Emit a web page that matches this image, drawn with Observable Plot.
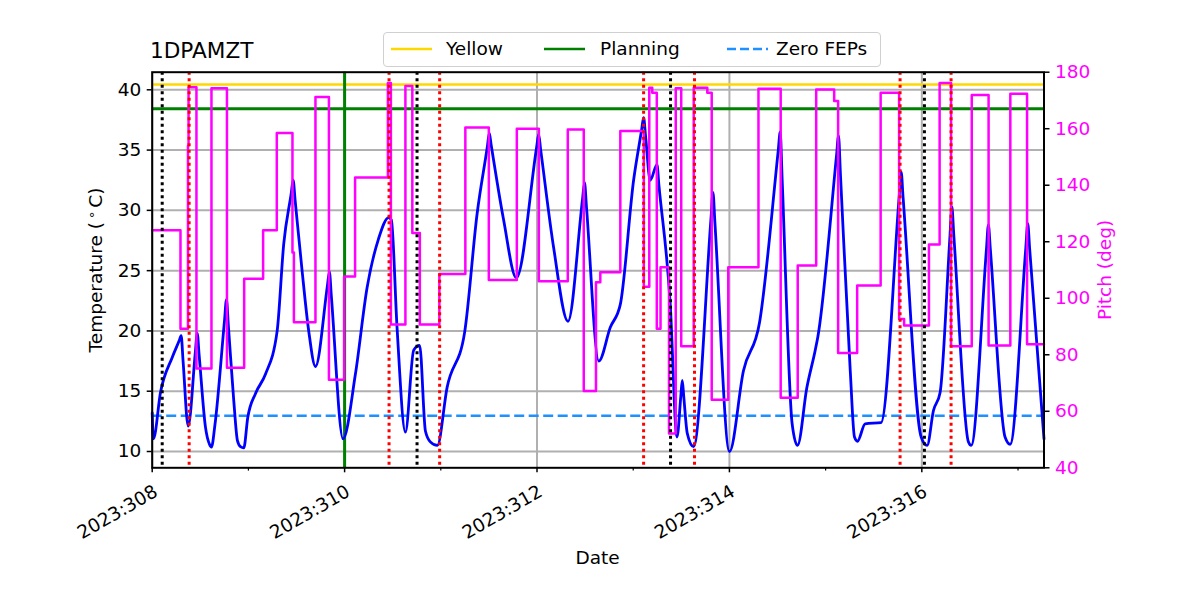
<!DOCTYPE html>
<html><head><meta charset="utf-8">
<script src="https://cdn.jsdelivr.net/npm/d3@7"></script>
<script src="https://cdn.jsdelivr.net/npm/@observablehq/plot@0.6"></script>
<style>
body{margin:0;background:white;}
#wrap{position:relative;width:1200px;height:600px;font-family:"DejaVu Sans",sans-serif;color:black;overflow:hidden;}
#wrap svg.plot{position:absolute;left:0;top:0;}
.t{position:absolute;white-space:nowrap;font-size:18.5px;line-height:22px;}
.rot{transform:translate(-50%,-50%) rotate(-90deg);}
#legend{position:absolute;left:383px;top:32px;width:496px;height:33px;border:1px solid #d0d0d0;border-radius:4px;background:rgba(255,255,255,0.85);}
#legend svg{position:absolute;}
</style></head><body><div id="wrap">
</div>
<script>
// ---- data ----
const tempTime = [308.000,308.013,308.086,308.208,308.281,308.301,308.321,308.374,308.448,308.468,308.488,308.554,308.595,308.616,308.652,308.752,308.772,308.792,308.848,308.886,308.917,308.952,308.993,309.073,309.177,309.299,309.367,309.445,309.465,309.485,309.558,309.627,309.697,309.822,309.842,309.862,309.984,310.112,310.234,310.351,310.458,310.486,310.545,310.632,310.718,310.780,310.840,310.891,310.964,311.065,311.248,311.377,311.484,311.504,311.524,311.653,311.785,311.997,312.017,312.037,312.173,312.322,312.474,312.494,312.514,312.642,312.762,312.866,313.004,313.088,313.108,313.128,313.177,313.247,313.267,313.385,313.455,313.495,313.510,313.525,313.562,313.627,313.809,313.829,313.849,314.001,314.146,314.313,314.508,314.528,314.548,314.652,314.708,314.805,314.892,314.919,315.114,315.134,315.154,315.256,315.300,315.331,315.411,315.577,315.765,315.785,315.805,315.993,316.055,316.121,316.190,316.292,316.312,316.332,316.484,316.513,316.672,316.692,316.712,316.865,316.918,317.081,317.101,317.121,317.270];
const tempC = [13.2,11.05,14.9,17.8,19.2,19.6,17.5,12.1,18.2,19.8,18.0,12.0,10.6,10.36,12.2,20.9,22.6,20.4,14.2,10.9,10.4,10.3,12.8,14.8,16.4,20.0,27.2,31.4,32.5,30.9,25.0,20.0,17.05,23.8,24.9,22.9,11.05,16.4,23.6,27.6,29.4,29.2,20.3,11.6,18.4,18.8,11.7,10.8,10.5,15.3,19.9,29.7,35.3,36.4,35.4,29.2,24.4,35.3,36.3,35.1,26.9,20.8,31.0,32.3,30.3,17.5,20.3,22.2,32.5,36.7,37.7,36.2,32.5,33.8,32.1,22.2,11.2,14.6,15.9,14.6,11.5,10.4,29.4,31.5,29.0,10.0,16.7,20.7,35.0,36.5,32.6,12.3,10.5,15.3,18.4,19.5,34.6,36.2,33.0,16.7,11.2,10.85,12.3,12.4,31.2,33.2,31.1,11.2,10.5,13.4,14.9,27.8,30.3,28.0,10.8,10.5,26.8,28.8,26.8,11.2,10.6,26.9,28.9,26.8,11.05];

const pitchTime = [308.000,308.294,308.372,308.378,308.460,308.616,308.777,308.956,309.153,309.295,309.458,309.473,309.697,309.837,309.995,310.109,310.450,310.481,310.632,310.704,310.782,310.985,311.255,311.499,311.790,312.019,312.320,312.486,312.613,312.658,312.866,313.110,313.167,313.198,313.245,313.284,313.372,313.442,313.499,313.629,313.770,313.816,313.988,314.302,314.533,314.710,314.902,315.089,315.130,315.328,315.572,315.764,315.816,316.074,316.185,316.304,316.519,316.694,316.920,317.094,317.270];
const pitchDeg = [124.1,89.2,154,174.7,75.1,174.3,75.4,106.9,124.1,158.5,116.2,91.5,171.2,71.2,107.7,142.7,176.2,90.7,175.1,123.1,90.7,108.6,160.4,106.5,160.0,106.0,159.7,67.2,105.7,109.2,159.2,104.1,174.5,172.7,89.2,111.0,52.1,174.3,83.0,174.5,172.7,64.1,111.0,174.1,64.8,111.6,173.9,169.8,80.6,104.5,172.7,92.7,90.4,119.0,176.2,83.0,171.9,83.3,172.4,83.7,83.7];

const yellowLimit = 40.43;
const planningLimit = 38.43;
const zeroFepsLimit = 12.96;
const greenTimes = [310.0];
const blackTimes = [308.104, 310.753, 313.388, 316.027];
const redTimes = [308.384, 310.462, 310.988, 313.108, 313.637, 315.774, 316.304];

const tempTicks = [10, 15, 20, 25, 30, 35, 40];
const pitchTicks = [40, 60, 80, 100, 120, 140, 160, 180];
const dateTicks = [308, 310, 312, 314, 316];
const minorTicks = [309, 311, 313, 315, 317];

// ---- chart ----
const X0 = 308, X1 = 317.27, Y0 = 8.648, Y1 = 41.46;
const toY = p => Y0 + (p - 40) / 140 * (Y1 - Y0);
const fromY = y => 40 + (y - Y0) / (Y1 - Y0) * 140;

const temp = tempTime.map((t, i) => ({t, v: tempC[i]}));
const pitch = pitchTime.map((t, i) => ({t, v: toY(pitchDeg[i])}));

const chart = Plot.plot({
  width: 1200, height: 600,
  marginLeft: 151.7, marginRight: 156.5, marginTop: 71.7, marginBottom: 132.7,
  x: {domain: [X0, X1]},
  y: {domain: [Y0, Y1]},
  style: {fontFamily: "DejaVu Sans", fontSize: "18.5px", background: "white", color: "black"},
  marks: [
    Plot.gridY(tempTicks, {stroke: "#b0b0b0", strokeOpacity: 1, strokeWidth: 2}),
    Plot.gridX(dateTicks, {stroke: "#b0b0b0", strokeOpacity: 1, strokeWidth: 2}),
    Plot.ruleY([yellowLimit], {stroke: "#ffd700", strokeWidth: 2.5}),
    Plot.ruleY([planningLimit], {stroke: "green", strokeWidth: 3}),
    Plot.ruleY([zeroFepsLimit], {stroke: "#1e90ff", strokeWidth: 2.5, strokeDasharray: "10,4.5"}),
    Plot.ruleX(greenTimes, {stroke: "green", strokeWidth: 3}),
    Plot.line(temp, {x: "t", y: "v", stroke: "blue", strokeWidth: 2.8, curve: "monotone-x"}),
    Plot.line(pitch, {x: "t", y: "v", stroke: "magenta", strokeWidth: 2.5, curve: "step-after"}),
    Plot.ruleX(blackTimes, {stroke: "black", strokeWidth: 3, strokeDasharray: "3,3.5"}),
    Plot.ruleX(redTimes, {stroke: "red", strokeWidth: 3, strokeDasharray: "3,3.5"}),
    Plot.axisY(tempTicks, {anchor: "left", tickSize: 5, tickPadding: 6, label: null, strokeWidth: 1.5}),
    Plot.axisY(pitchTicks.map(toY), {anchor: "right", tickSize: 5, tickPadding: 6, label: null,
      tickFormat: d => String(Math.round(fromY(d))), fill: "magenta", stroke: "black", strokeWidth: 1.5}),
    Plot.axisX(dateTicks, {tickSize: 5, tickFormat: () => "", label: null, strokeWidth: 1.5}),
    Plot.axisX(dateTicks, {tickSize: 0, tickPadding: 22.3, dx: 3.7, tickRotate: -30, tickFormat: d => "2023:" + d, label: null}),
    Plot.axisX(minorTicks, {tickSize: 3.3, tickFormat: () => "", label: null, strokeWidth: 1.2}),
    Plot.frame({stroke: "black", strokeWidth: 2})
  ]
});
chart.classList.add("plot");
const wrap = document.getElementById("wrap");
wrap.appendChild(chart);

function addText(html, css, cls) {
  const d = document.createElement("div");
  d.className = "t " + (cls || "");
  d.innerHTML = html;
  Object.assign(d.style, css);
  wrap.appendChild(d);
  return d;
}
addText("1DPAMZT", {left: "150px", top: "37.5px", fontSize: "21.6px", lineHeight: "26px"});
addText('Temperature (<span style="font-size:0.72em;position:relative;top:-0.45em;padding:0 3px">&#8728;</span>C)', {left: "97px", top: "269.5px"}, "rot");
addText("Pitch (deg)", {left: "1105px", top: "269.5px", color: "magenta"}, "rot");
addText("Date", {left: "597.6px", top: "558px", transform: "translate(-50%,-50%)"});

// legend
const lg = document.createElement("div");
lg.id = "legend";
wrap.appendChild(lg);
const legendItems = [
  {label: "Yellow", color: "#ffd700", dash: null, x: 7, tx: 62},
  {label: "Planning", color: "green", dash: null, x: 160, tx: 216},
  {label: "Zero FEPs", color: "#1e90ff", dash: "9,4", x: 343, tx: 392}
];
legendItems.forEach(it => {
  const s = d3.create("svg").attr("width", 42).attr("height", 6)
    .style("left", it.x + "px").style("top", "13px");
  s.append("line").attr("x1", 0).attr("x2", 41).attr("y1", 3).attr("y2", 3)
    .attr("stroke", it.color).attr("stroke-width", 2.7)
    .attr("stroke-dasharray", it.dash);
  lg.appendChild(s.node());
  const t = document.createElement("div");
  t.className = "t";
  t.textContent = it.label;
  Object.assign(t.style, {left: it.tx + "px", top: "5px"});
  lg.appendChild(t);
});
</script></body></html>
